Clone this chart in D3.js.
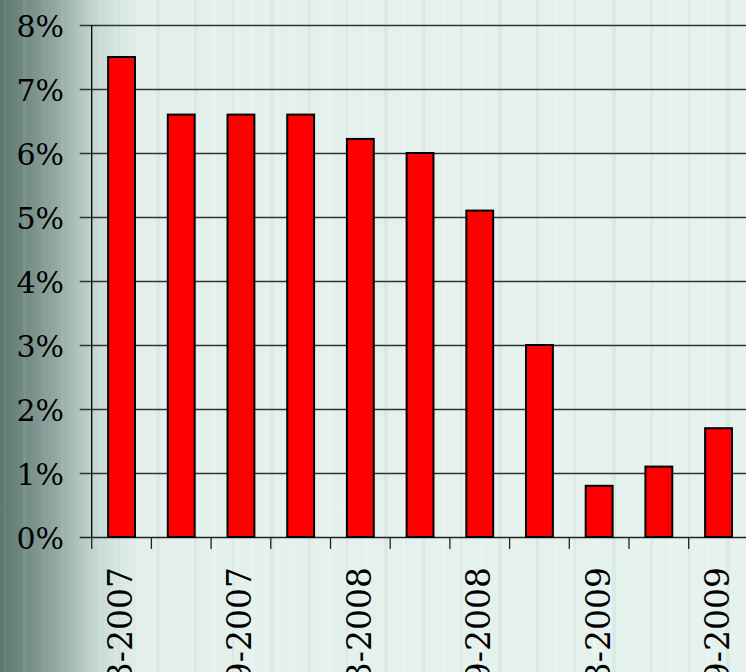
<!DOCTYPE html>
<html>
<head>
<meta charset="utf-8">
<script src="https://cdn.jsdelivr.net/npm/d3@7"></script>
<style>
  html, body { margin: 0; padding: 0; overflow: hidden; }
  svg { display: block; }
  text { font-family: "DejaVu Serif", serif; }
</style>
</head>
<body>
<script>
// Quarterly rate, March 2007 to September 2009
const periods = ["3-2007", "6-2007", "9-2007", "12-2007", "3-2008", "6-2008",
                 "9-2008", "12-2008", "3-2009", "6-2009", "9-2009"];
const rates = [7.5, 6.6, 6.6, 6.6, 6.22, 6.0, 5.1, 3.0, 0.8, 1.1, 1.7];
const yTicks = [0, 1, 2, 3, 4, 5, 6, 7, 8];
const shownLabels = ["3-2007", "9-2007", "3-2008", "9-2008", "3-2009", "9-2009"];

const W = 746, H = 672;
const plotLeft = 91.7, plotTop = 25, plotBottom = 537;
const stepW = 59.7;

const svg = d3.select("body").append("svg")
  .attr("width", W).attr("height", H);

// background: dark green-grey fading into pale mint
const defs = svg.append("defs");
const grad = defs.append("linearGradient").attr("id", "bg")
  .attr("x1", 0).attr("x2", 1).attr("y1", 0).attr("y2", 0);
[[0, "#5c7871"], [0.05, "#7d968f"], [0.09, "#9fb5ae"], [0.12, "#bfd3cc"],
 [0.16, "#d9e8e3"], [0.2, "#e4f0ec"], [1, "#e6f2ee"]]
  .forEach(([o, c]) => grad.append("stop").attr("offset", o).attr("stop-color", c));

svg.append("rect").attr("width", W).attr("height", H).attr("fill", "url(#bg)");

// faint vertical streaks
const streaks = [];
for (let sx = 4; sx < W; sx += 19) streaks.push(sx);
svg.append("g").selectAll("rect").data(streaks).join("rect")
  .attr("x", d => d).attr("y", 0).attr("width", (d, i) => 2 + (i % 3))
  .attr("height", H)
  .attr("fill", (d, i) => i % 2 ? "#ffffff" : "#b9cdc6")
  .attr("opacity", (d, i) => d < 100 ? 0.08 : (i % 2 ? 0.18 : 0.22));

const x = d3.scaleBand().domain(periods)
  .range([plotLeft, plotLeft + stepW * periods.length])
  .paddingInner(0.55).paddingOuter(0.275);

const y = d3.scaleLinear().domain([0, 8]).range([plotBottom, plotTop]);

// horizontal gridlines with outward ticks
svg.append("g").selectAll("line").data(yTicks).join("line")
  .attr("x1", plotLeft - 12).attr("x2", W)
  .attr("y1", d => y(d) + 0.5).attr("y2", d => y(d) + 0.5)
  .attr("stroke", d => d === 0 ? "#222" : "#333")
  .attr("stroke-width", 1.3);

// bars
svg.append("g").selectAll("rect").data(rates).join("rect")
  .attr("x", (d, i) => x(periods[i]))
  .attr("y", d => y(d))
  .attr("width", x.bandwidth())
  .attr("height", d => plotBottom - y(d))
  .attr("fill", "#ff0000")
  .attr("stroke", "#000")
  .attr("stroke-width", 2);

// y axis line
svg.append("line")
  .attr("x1", plotLeft).attr("x2", plotLeft)
  .attr("y1", plotTop).attr("y2", plotBottom)
  .attr("stroke", "#000").attr("stroke-width", 1.3);

// x tick marks at band boundaries
const bounds = d3.range(periods.length + 1).map(i => plotLeft + i * x.step());
svg.append("g").selectAll("line").data(bounds).join("line")
  .attr("x1", d => d).attr("x2", d => d)
  .attr("y1", plotBottom).attr("y2", plotBottom + 12)
  .attr("stroke", "#222").attr("stroke-width", 1.3);

// y labels
svg.append("g").selectAll("text").data(yTicks).join("text")
  .attr("x", 64).attr("y", d => y(d))
  .attr("dy", "0.4em")
  .attr("text-anchor", "end")
  .attr("font-size", 30)
  .attr("fill", "#000")
  .text(d => d + "%");

// x labels, rotated
svg.append("g").selectAll("text").data(shownLabels).join("text")
  .attr("transform", d => `translate(${x(d) + x.bandwidth() / 2 - 1.5},567) rotate(-90)`)
  .attr("dy", "0.36em")
  .attr("text-anchor", "end")
  .attr("font-size", 33)
  .attr("fill", "#000")
  .text(d => d);
</script>
</body>
</html>
